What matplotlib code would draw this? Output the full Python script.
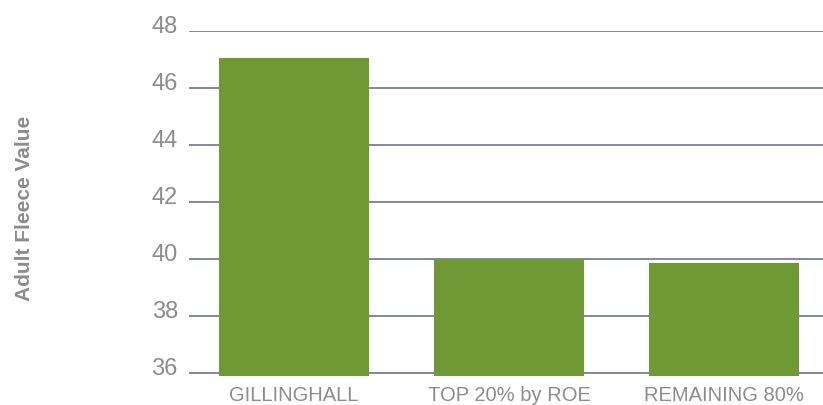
import matplotlib
matplotlib.use("Agg")
import matplotlib.pyplot as plt
from matplotlib.transforms import ScaledTranslation

# Adult fleece value by group
categories = ["GILLINGHALL", "TOP 20% by ROE", "REMAINING 80%"]
values = [47.05, 40.0, 39.86]
y_ticks = [36, 38, 40, 42, 44, 46, 48]

plt.rcParams['font.family'] = ['Liberation Sans', 'DejaVu Sans']
text_grey = "#8c8c8c"

fig = plt.figure(figsize=(8.23, 4.05), dpi=100)
ax = fig.add_axes([189 / 823, 1 - 376 / 405, (823 - 189) / 823, (376 - 31) / 405])

x = range(len(categories))
ax.bar(x, values, width=0.70, color="#6f9935", zorder=3)

ax.set_ylim(35.9, 48)
ax.set_xlim(-0.488, 2.46)
ax.set_yticks(y_ticks)
ax.set_xticks(list(x))
ax.set_xticklabels(categories)
ax.yaxis.grid(True, color="#6b7394", linewidth=1.2, zorder=0)
ax.tick_params(axis="both", length=0, colors=text_grey)
ax.tick_params(axis="y", pad=8, labelsize=17)
ax.tick_params(axis="x", pad=7, labelsize=14.5)
for s in ax.spines.values():
    s.set_visible(False)

# tick numbers sit a little above their gridlines
shift = ScaledTranslation(0, 0.07, fig.dpi_scale_trans)
for lab in ax.get_yticklabels():
    lab.set_transform(lab.get_transform() + shift)

fig.text(0.030, 0.486, "Adult Fleece Value", rotation=90, ha="center", va="center",
         color=text_grey, fontsize=15, fontweight="bold")

fig.savefig("out.png", dpi=100)
